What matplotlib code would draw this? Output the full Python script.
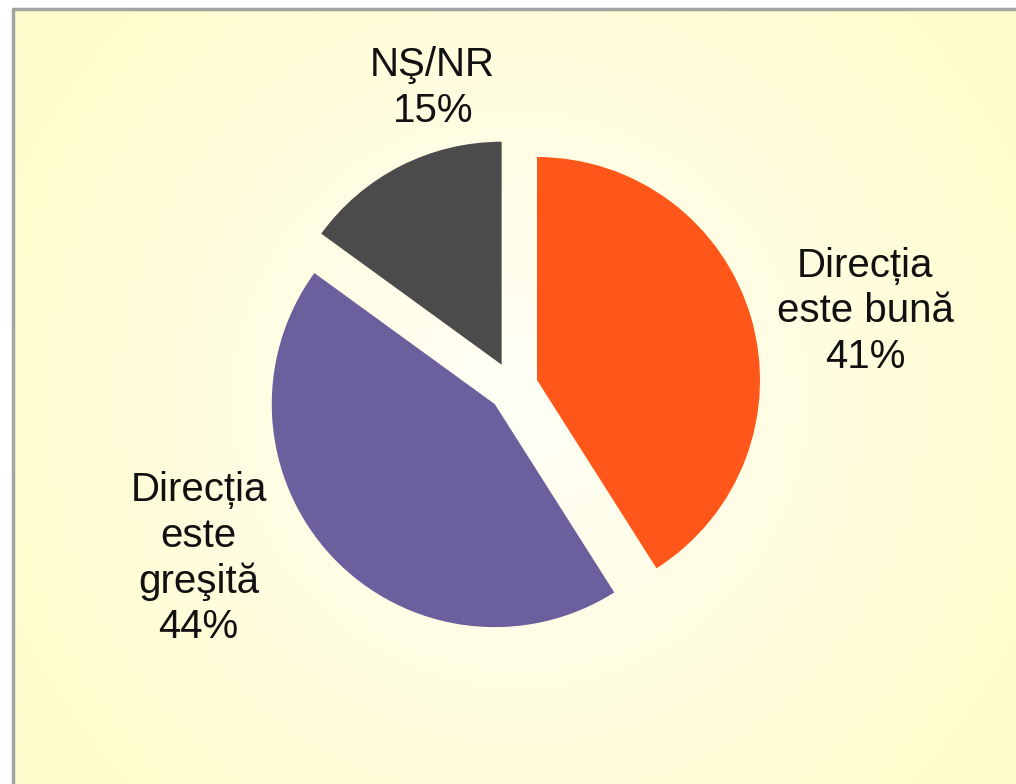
import matplotlib.pyplot as plt
import numpy as np
from matplotlib.colors import to_rgb

plt.rcParams["font.family"] = ["Liberation Sans", "DejaVu Sans"]

# data
labels = ["Direcția\neste bună", "Direcția\neste\ngreşită", "NŞ/NR"]
shares = [41, 44, 15]
colors = ["#FF5719", "#6B5F9D", "#4B4B4B"]
# label centres in units of pie radius (relative to pie centre)
label_x = [1.58, -1.41, -0.36]
label_y = [0.34, -0.77, 1.34]

W, H = 1016, 784
R = 223.0  # pie radius in px
cx, cy = 513.0, 387.0  # pie centre in px (from top)

fig = plt.figure(figsize=(W / 100, H / 100), dpi=100)
fig.patch.set_facecolor("white")
ax = fig.add_axes([0, 0, 1, 1])

# limits in radius units so one unit = R px
x0, x1 = -cx / R, (W - cx) / R
y0, y1 = -(H - cy) / R, cy / R

# background panel with a soft radial gradient
fx0, fy0 = 13.0, 9.0  # frame corner in px
gx = np.linspace(fx0, W, 300)
gy = np.linspace(fy0, H, 240)
GX, GY = np.meshgrid(gx, gy)
d = np.sqrt((GX - 520) ** 2 + (GY - 400) ** 2) / 560.0
d = np.clip(d, 0, 1) ** 1.1
c_in = np.array(to_rgb("#FFFFF6"))
c_out = np.array(to_rgb("#FFFCCC"))
img = c_in[None, None, :] * (1 - d[..., None]) + c_out[None, None, :] * d[..., None]
ax.imshow(
    img,
    extent=[(fx0 - cx) / R, x1, y0, (cy - fy0) / R],
    origin="upper",
    aspect="auto",
    zorder=0,
    interpolation="bilinear",
)
# frame line
ax.plot(
    [(fx0 - cx) / R, (fx0 - cx) / R, x1 + 0.1],
    [y0 - 0.1, (cy - fy0) / R, (cy - fy0) / R],
    color="#A3A3A3",
    lw=2.5,
    zorder=1,
    solid_capstyle="butt",
)

wedges, _ = ax.pie(
    shares,
    colors=colors,
    startangle=90,
    counterclock=False,
    explode=[25 / R] * 3,
    radius=1.0,
    wedgeprops=dict(linewidth=0, zorder=2),
)
for w in wedges:
    w.set_zorder(2)

for lab, s, lx, ly in zip(labels, shares, label_x, label_y):
    ax.text(
        lx,
        ly,
        f"{lab}\n{s}%",
        ha="center",
        va="center",
        fontsize=29,
        color="#111111",
        linespacing=1.25,
        zorder=3,
    )

ax.set_xlim(x0, x1)
ax.set_ylim(y0, y1)
ax.set_aspect("equal")
ax.axis("off")

plt.savefig("out.png", dpi=100)
